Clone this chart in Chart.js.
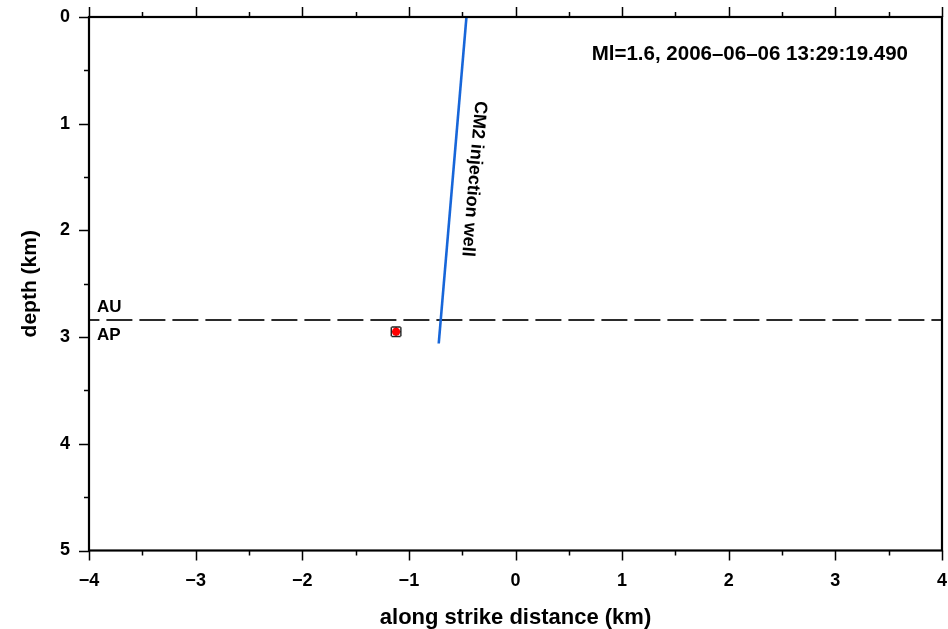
<!DOCTYPE html>
<html lang="en">
  <head>
    <meta charset="UTF-8" />
    <meta name="viewport" content="width=device-width, initial-scale=1.0" />
    <script src="https://cdn.jsdelivr.net/npm/chart.js@4.4.0/dist/chart.umd.min.js"></script>
    <style>
      html,
      body {
        margin: 0;
        padding: 0;
        background: #fff;
      }
    </style>
    <title>Along strike section</title>
  </head>
  <body>
    <canvas id="chart" width="948" height="629"></canvas>
    <script>
      // well trace (along strike km, depth km)
      const wellX = [-0.46, -0.72];
      const wellDepth = [0, 3.06];
      // AU / AP boundary
      const horizonX = [-4, 4];
      const horizonDepth = [2.84, 2.84];
      // event location with errors
      const eventX = [-1.12];
      const eventDepth = [2.95];
      const eventXErr = [0.045];
      const eventDepthErr = [0.045];

      const xTicks = [-4, -3, -2, -1, 0, 1, 2, 3, 4];
      const depthTicks = [0, 1, 2, 3, 4, 5];
      const eventLabel = "Ml=1.6, 2006\u201306\u201306 13:29:19.490";
      const wellLabel = "CM2 injection well";

      const FONT = "'Liberation Sans', Arial, Helvetica, sans-serif";

      const toPoints = (xs, ys) => xs.map((x, i) => ({ x, y: ys[i] }));
      const minus = (v) => (v < 0 ? "\u2212" + Math.abs(v) : String(v));

      // keep the plot box where the layout padding puts it
      const noLabelPadding = (scale) => {
        scale.paddingLeft = 0;
        scale.paddingRight = 0;
        scale.paddingTop = 0;
        scale.paddingBottom = 0;
      };

      // outer frame plus major/minor tick marks
      const frame = {
        id: "frame",
        afterDraw(chart) {
          const { ctx, chartArea: a } = chart;
          const { x, y } = chart.scales;
          ctx.save();
          ctx.strokeStyle = "#000";
          ctx.lineWidth = 1.5;
          ctx.beginPath();
          for (let v = -4; v <= 4; v += 0.5) {
            const px = Math.round(x.getPixelForValue(v)) + 0.5;
            const len = Number.isInteger(v) ? 10 : 5;
            ctx.moveTo(px, a.bottom);
            ctx.lineTo(px, a.bottom + len);
            ctx.moveTo(px, a.top);
            ctx.lineTo(px, a.top - len);
          }
          for (let v = 0; v <= 5; v += 0.5) {
            const py = Math.round(y.getPixelForValue(v)) + 0.5;
            const len = Number.isInteger(v) ? 10 : 5;
            ctx.moveTo(a.left, py);
            ctx.lineTo(a.left - len, py);
          }
          ctx.stroke();
          ctx.lineWidth = 2.2;
          ctx.strokeRect(a.left, a.top, a.right - a.left, a.bottom - a.top);
          ctx.restore();
        },
      };

      // error bars on the event, drawn under the dot
      const errorBars = {
        id: "errorBars",
        beforeDatasetsDraw(chart) {
          const { ctx } = chart;
          const { x, y } = chart.scales;
          ctx.save();
          ctx.strokeStyle = "#222";
          ctx.lineWidth = 1.4;
          ctx.beginPath();
          eventX.forEach((ex, i) => {
            const cx = x.getPixelForValue(ex);
            const cy = y.getPixelForValue(eventDepth[i]);
            const x0 = x.getPixelForValue(ex - eventXErr[i]);
            const x1 = x.getPixelForValue(ex + eventXErr[i]);
            const y0 = y.getPixelForValue(eventDepth[i] - eventDepthErr[i]);
            const y1 = y.getPixelForValue(eventDepth[i] + eventDepthErr[i]);
            const cap = 4.5;
            ctx.moveTo(x0, cy);
            ctx.lineTo(x1, cy);
            ctx.moveTo(x0, cy - cap);
            ctx.lineTo(x0, cy + cap);
            ctx.moveTo(x1, cy - cap);
            ctx.lineTo(x1, cy + cap);
            ctx.moveTo(cx, y0);
            ctx.lineTo(cx, y1);
            ctx.moveTo(cx - cap, y0);
            ctx.lineTo(cx + cap, y0);
            ctx.moveTo(cx - cap, y1);
            ctx.lineTo(cx + cap, y1);
          });
          ctx.stroke();
          ctx.restore();
        },
      };

      // text annotations
      const notes = {
        id: "notes",
        afterDraw(chart) {
          const { ctx, chartArea: a } = chart;
          const { x, y } = chart.scales;
          ctx.save();
          ctx.fillStyle = "#000";

          ctx.font = "bold 20.5px " + FONT;
          ctx.textAlign = "right";
          ctx.textBaseline = "alphabetic";
          ctx.fillText(eventLabel, a.right - 34, a.top + 43);

          const hy = y.getPixelForValue(horizonDepth[0]);
          ctx.font = "bold 17px " + FONT;
          ctx.textAlign = "left";
          ctx.fillText("AU", a.left + 8, hy - 8);
          ctx.fillText("AP", a.left + 8, hy + 20);

          // label running alongside the well
          const p0 = { x: x.getPixelForValue(wellX[0]), y: y.getPixelForValue(wellDepth[0]) };
          const p1 = { x: x.getPixelForValue(wellX[1]), y: y.getPixelForValue(wellDepth[1]) };
          const ang = Math.atan2(p1.y - p0.y, p1.x - p0.x);
          const t = (y.getPixelForValue(1.5) - p0.y) / (p1.y - p0.y);
          const mx = p0.x + (p1.x - p0.x) * t;
          const my = p0.y + (p1.y - p0.y) * t;
          const ux = Math.sin(ang);
          const uy = -Math.cos(ang);
          ctx.translate(mx + ux * 16, my + uy * 16);
          ctx.rotate(ang);
          ctx.font = "bold 18px " + FONT;
          ctx.textAlign = "center";
          ctx.fillText(wellLabel, 0, 0);
          ctx.restore();
        },
      };

      const config = {
        type: "scatter",
        data: {
          datasets: [
            {
              label: "event",
              data: toPoints(eventX, eventDepth),
              pointRadius: 4,
              pointBackgroundColor: "#ff0000",
              pointBorderWidth: 0,
              showLine: false,
            },
            {
              label: "well",
              data: toPoints(wellX, wellDepth),
              showLine: true,
              borderColor: "#1766d9",
              borderWidth: 2.6,
              pointRadius: 0,
            },
            {
              label: "AU/AP",
              data: toPoints(horizonX, horizonDepth),
              showLine: true,
              borderColor: "#2b2b2b",
              borderWidth: 2,
              borderDash: [26, 7],
              borderDashOffset: 15.6,
              pointRadius: 0,
            },
          ],
        },
        options: {
          responsive: false,
          animation: false,
          layout: { padding: { left: 0, top: 17, right: 6, bottom: 0 } },
          plugins: {
            legend: { display: false },
            tooltip: { enabled: false },
          },
          scales: {
            x: {
              type: "linear",
              min: -4,
              max: 4,
              afterBuildTicks: (axis) => {
                axis.ticks = xTicks.map((v) => ({ value: v }));
              },
              afterFit: (scale) => {
                scale.height = 78.5;
                noLabelPadding(scale);
              },
              grid: { display: false, drawTicks: false },
              border: { display: false },
              ticks: {
                padding: 20,
                color: "#000",
                font: { family: FONT, size: 18, weight: "bold" },
                callback: (v) => minus(v),
                maxRotation: 0,
              },
              title: {
                display: true,
                text: "along strike distance (km)",
                color: "#000",
                font: { family: FONT, size: 22, weight: "bold", lineHeight: 1 },
                padding: { top: 1, bottom: 0 },
              },
            },
            y: {
              type: "linear",
              min: 0,
              max: 5,
              reverse: true,
              afterBuildTicks: (axis) => {
                axis.ticks = depthTicks.map((v) => ({ value: v }));
              },
              afterFit: (scale) => {
                scale.width = 89;
                noLabelPadding(scale);
              },
              grid: { display: false, drawTicks: false },
              border: { display: false },
              ticks: {
                padding: 19,
                color: "#000",
                font: { family: FONT, size: 18, weight: "bold" },
                callback: (v) => minus(v),
              },
              title: {
                display: true,
                text: "depth (km)",
                color: "#000",
                font: { family: FONT, size: 21, weight: "bold", lineHeight: 1 },
                padding: { top: 20, bottom: 0 },
              },
            },
          },
        },
        plugins: [frame, errorBars, notes],
      };

      const chart = new Chart(document.getElementById("chart"), config);
    </script>
  </body>
</html>
